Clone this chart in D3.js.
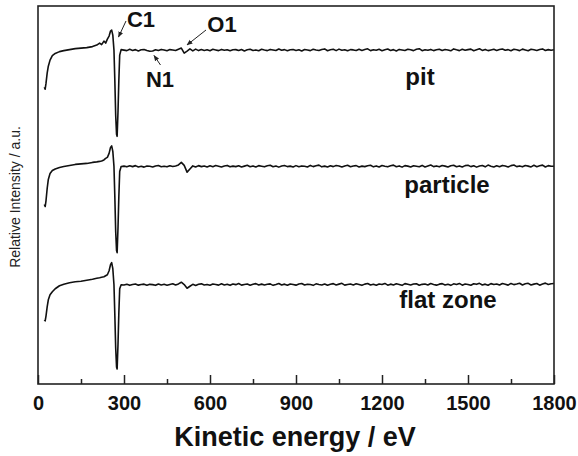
<!DOCTYPE html>
<html>
<head>
<meta charset="utf-8">
<script src="https://cdn.jsdelivr.net/npm/d3@7/dist/d3.min.js"></script>
<style>
  html, body { margin: 0; padding: 0; background: #fff; }
  svg { display: block; font-family: "Liberation Sans", Arial, sans-serif; }
</style>
</head>
<body>
<svg id="chart" width="578" height="456"></svg>
<script>
// ---- data ----
const xTicks = [0, 300, 600, 900, 1200, 1500, 1800];
const xMinorTicks = [150, 450, 750, 1050, 1350, 1650];
const seriesNames = ["pit", "particle", "flat zone"];
const seriesOffsets = [333, 217, 99];

// energies of the low-energy part (eV)
const energiesLow = [22,25,28,32,36,42,50,60,75,90,110,130,150,170,190,205,215,222,230,236,242,248,253,257,261,265,268,271,274,276,279,282,285,290];
// baseline part sampled every 10 eV from 300 to 1800
const energiesHigh = d3.range(300, 1801, 10);

const pitLow = [-37,-39,-33,-23,-16,-10,-5.5,-3.3,-1.5,-0.5,0.5,1.5,2,2.5,3.5,5,7,5.5,9,7,11,14,19,20,15,0,-30,-65,-84,-86,-62,-30,-5,0.5];
const particleLow = [-38,-40,-34,-22,-13,-7,-4,-2.5,-1,0,1,2,2.5,3,4,4.5,5,5.5,6.5,8,9,13,19,20.5,15,0,-30,-65,-84,-86,-62,-30,-5,0];
const flatLow = [-35,-36,-31,-22,-15,-10,-7,-4,-1,0.5,2,3,3.5,4.5,5.5,6.5,7,7.5,8,9,10,14,20,22,16,0,-30,-63,-82,-84,-60,-28,-4,0];

const pitHigh = [
  0,-0.5,0.8,-0.3,0.5,-0.8,0.3,0.6,-0.4,-1.2,
  -0.8,0.4,-0.3,0.7,0.2,-0.6,0.5,0.1,-0.4,0.9,
  2.0,-3.0,-1.0,1.2,-0.8,1.0,-0.5,0.6,-0.3,0.4,
  -0.6,0.8,0.2,-0.5,0.7,-0.2,0.4,-0.7,0.3,0.5,
  -0.4,0.6,-0.8,0.3,0.9,-0.3,0.2,-0.6,0.8,0.1,
  -0.5,0.7,0.2,-0.4,1.1,-0.2,0.5,-0.7,0.3,0.6,
  -0.3,0.4,-0.8,0.6,0.1,-0.5,0.9,0.2,-0.4,0.7,
  1.2,-0.6,0.3,0.8,-0.5,1.0,-0.2,0.4,-0.7,0.5,
  0.2,-0.4,0.9,-0.3,0.6,1.3,-0.5,0.3,-0.2,0.8,
  -0.6,0.4,1.1,-0.3,0.5,-0.8,0.7,0.2,-0.4,0.9,
  0.3,-0.5,0.8,1.4,-0.6,0.4,-0.2,0.7,-0.5,0.3,
  0.9,-0.4,0.6,0.1,-0.7,1.2,0.3,-0.5,0.8,-0.2,
  0.5,1.0,-0.6,0.4,1.3,-0.3,0.7,-0.5,0.2,0.9,
  -0.4,0.6,1.1,-0.2,0.5,-0.7,0.8,0.3,-0.5,1.0,
  0.2,-0.6,0.9,0.4,-0.3,0.7,1.2,-0.4,0.5,-0.2,
  0.3];
const particleHigh = [
  0.3,-0.4,0.6,-0.2,0.8,-0.5,0.2,-0.7,0.4,0.1,
  -0.6,0.5,0.9,-0.3,0.2,-0.4,0.7,-0.1,0.5,1.5,
  4.0,1.0,-5.7,-2.5,0.5,-0.6,0.8,-0.2,0.4,-0.5,
  0.6,-0.3,0.9,0.2,-0.6,0.4,1.0,-0.4,0.3,-0.2,
  0.7,-0.5,0.3,1.1,-0.3,0.5,-0.6,0.8,0.2,-0.4,
  0.6,1.2,-0.3,0.4,-0.7,0.5,0.9,-0.2,0.3,-0.5,
  0.8,-0.3,0.5,0.2,-0.6,1.0,-0.2,0.6,1.3,-0.4,
  0.3,-0.5,0.7,-0.2,0.9,0.4,-0.6,0.5,1.1,-0.3,
  0.4,0.8,-0.5,0.3,-0.2,0.7,1.2,-0.4,0.5,-0.6,
  0.9,0.2,-0.4,0.6,1.3,-0.3,0.5,-0.7,0.8,0.3,
  -0.5,0.7,0.2,-0.3,1.0,-0.6,0.4,1.4,-0.2,0.5,
  -0.4,0.9,0.3,-0.6,0.7,1.2,-0.3,0.5,-0.5,0.8,
  1.1,-0.2,0.6,-0.7,0.4,0.9,-0.4,1.3,0.2,-0.5,
  0.7,-0.3,1.0,0.4,-0.6,0.8,1.4,-0.2,0.5,-0.4,
  0.9,0.3,-0.5,1.1,-0.3,0.6,1.3,-0.6,0.8,0.2,
  0.1];
const flatHigh = [
  -0.2,0.5,-0.6,0.3,0.7,-0.4,0.2,0.6,-0.5,0.4,
  0.1,-0.6,0.8,-0.2,0.4,-0.5,0.3,0.9,-0.3,0.8,
  2.5,0.2,-3.5,-1.5,0.4,-0.7,0.5,0.9,-0.3,0.2,
  -0.5,0.7,0.3,-0.4,1.0,-0.2,0.5,-0.6,0.8,0.1,
  1.2,-0.4,0.3,0.7,-0.5,0.4,1.1,-0.3,0.6,-0.2,
  0.5,0.9,-0.6,0.3,1.3,-0.2,0.6,-0.5,0.8,0.2,
  -0.4,0.7,1.2,-0.3,0.5,0.2,-0.6,0.9,0.3,-0.2,
  0.8,-0.5,0.4,1.1,-0.3,0.6,1.4,-0.4,0.3,0.7,
  -0.2,0.9,0.3,-0.6,0.6,1.2,-0.3,0.5,-0.5,0.8,
  0.2,1.3,-0.4,0.6,-0.2,0.9,0.3,-0.6,1.1,0.4,
  -0.3,0.7,1.0,-0.5,0.4,0.8,-0.2,1.2,0.3,-0.4,
  0.6,1.1,-0.3,0.5,-0.6,0.9,0.2,1.3,-0.4,0.7,
  0.3,-0.5,1.0,0.4,1.4,-0.2,0.6,-0.5,1.1,0.2,
  0.8,-0.3,1.2,0.5,-0.4,1.3,0.1,0.7,1.5,-0.2,
  0.9,1.4,-0.3,0.6,1.2,-0.4,0.8,1.6,0.3,1.0,
  1.2];

const labelTexts = ["pit", "particle", "flat zone"];
const peakNames = ["C1", "N1", "O1"];

// ---- layout ----
const W = 578, H = 456;
const margin = { left: 38, right: 24, top: 6, bottom: 72 };
const iw = W - margin.left - margin.right;
const ih = H - margin.top - margin.bottom;

const svg = d3.select("#chart");
const g = svg.append("g").attr("transform", `translate(${margin.left},${margin.top})`);

const x = d3.scaleLinear().domain([0, 1800]).range([0, iw]);
const y = d3.scaleLinear().domain([0, 377]).range([ih, 0]);

const energies = energiesLow.concat(energiesHigh);
const lows = [pitLow, particleLow, flatLow];
const highs = [pitHigh, particleHigh, flatHigh];

const line = d3.line().x(d => x(d[0])).y(d => y(d[1]));

seriesNames.forEach((name, i) => {
  const vals = lows[i].concat(highs[i]);
  const n = Math.min(vals.length, energies.length);
  const pts = [];
  for (let k = 0; k < n; k++) pts.push([energies[k], seriesOffsets[i] + vals[k]]);
  g.append("path")
    .datum(pts)
    .attr("fill", "none")
    .attr("stroke", "#111")
    .attr("stroke-width", 1.6)
    .attr("stroke-linejoin", "round")
    .attr("d", line);
});

// frame
g.append("rect")
  .attr("x", 0).attr("y", 0).attr("width", iw).attr("height", ih)
  .attr("fill", "none").attr("stroke", "#222").attr("stroke-width", 1.6);

// x axis major ticks (inward)
const xAxis = d3.axisBottom(x).tickValues(xTicks).tickSizeInner(-9).tickSizeOuter(0).tickPadding(12)
  .tickFormat(d3.format("d"));
const ax = g.append("g").attr("transform", `translate(0,${ih})`).call(xAxis);
ax.select(".domain").remove();
ax.selectAll(".tick line").attr("stroke", "#222").attr("stroke-width", 1.5);
ax.selectAll(".tick text")
  .attr("fill", "#111")
  .style("font-size", "20px").style("font-weight", "bold")
  .attr("font-family", "'Liberation Sans', Arial, sans-serif");

const xMinor = d3.axisBottom(x).tickValues(xMinorTicks).tickSizeInner(-5).tickSizeOuter(0).tickFormat("");
const axm = g.append("g").attr("transform", `translate(0,${ih})`).call(xMinor);
axm.select(".domain").remove();
axm.selectAll(".tick line").attr("stroke", "#222").attr("stroke-width", 1.5);

// axis titles
svg.append("text")
  .attr("x", 295).attr("y", 446)
  .attr("text-anchor", "middle")
  .style("font-size", "27px").style("font-weight", "bold").attr("fill", "#111")
  .text("Kinetic energy / eV");

svg.append("text")
  .attr("transform", "translate(20,197) rotate(-90)")
  .attr("text-anchor", "middle")
  .style("font-size", "14px").attr("fill", "#222")
  .text("Relative Intensity / a.u.");

// series labels
const labelPos = [[420, 85], [447, 193], [448, 308]];
labelTexts.forEach((t, i) => {
  svg.append("text")
    .attr("x", labelPos[i][0]).attr("y", labelPos[i][1])
    .attr("text-anchor", "middle")
    .style("font-size", "24px").style("font-weight", "bold").attr("fill", "#111")
    .text(t);
});

// peak annotations with arrows
const defs = svg.append("defs");
defs.append("marker")
  .attr("id", "ah").attr("viewBox", "0 0 10 10").attr("refX", 9).attr("refY", 5)
  .attr("markerWidth", 6).attr("markerHeight", 6).attr("orient", "auto")
  .append("path").attr("d", "M0,1 L10,5 L0,9 Z").attr("fill", "#222");

const peakText = [[141, 27], [160, 87], [222, 32]];
const peakArrow = [[[126, 21], [118.5, 37]], [[160.5, 65], [154, 55.5]], [[206, 30], [187, 45]]];
peakNames.forEach((t, i) => {
  svg.append("text")
    .attr("x", peakText[i][0]).attr("y", peakText[i][1])
    .attr("text-anchor", "middle")
    .style("font-size", "22px").style("font-weight", "bold").attr("fill", "#111")
    .text(t);
  svg.append("line")
    .attr("x1", peakArrow[i][0][0]).attr("y1", peakArrow[i][0][1])
    .attr("x2", peakArrow[i][1][0]).attr("y2", peakArrow[i][1][1])
    .attr("stroke", "#222").attr("stroke-width", 1)
    .attr("marker-end", "url(#ah)");
});
</script>
</body>
</html>
